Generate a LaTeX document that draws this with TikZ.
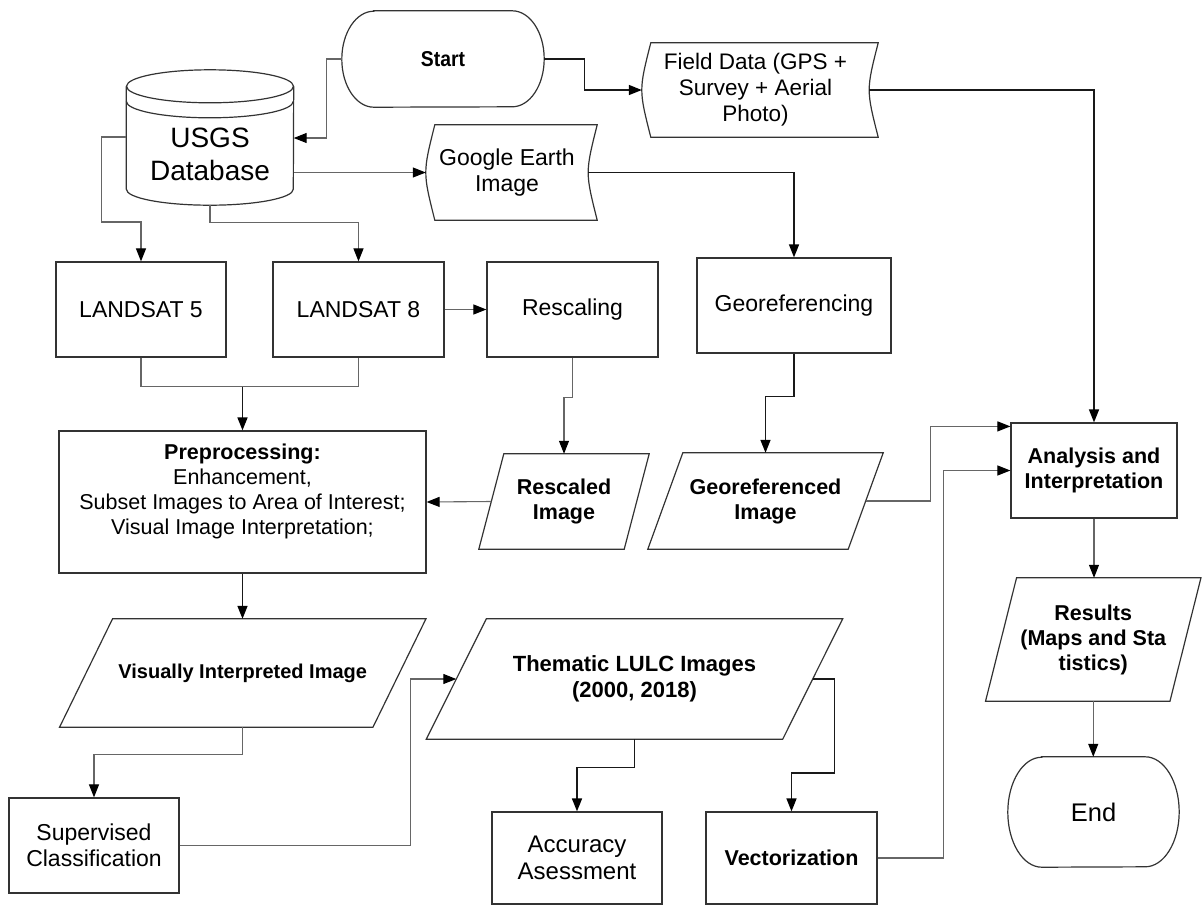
\documentclass[tikz,border=0pt]{standalone}
\usepackage{fontspec}
\setmainfont{Liberation Sans}
\newfontfamily\narrowfont[FakeStretch=0.9]{Liberation Sans}
\usetikzlibrary{arrows.meta}

\begin{document}
\begin{tikzpicture}[x=1pt, y=1pt,
    every node/.style={inner sep=0pt, align=center},
    box/.style={draw=black!80, line width=1.2pt},
    proc/.style={box, rectangle, minimum width=171, minimum height=95, font=\fontsize{23}{26}\selectfont},
    bproc/.style={proc, font=\fontsize{21.5}{25}\selectfont\bfseries},
    data/.style={minimum height=95, font=\fontsize{21.5}{25}\selectfont\bfseries},
    link/.style={line width=1.4pt, draw=black!90, -{Triangle[length=13pt, width=10pt, color=black]}},
    glink/.style={link, draw=black!60, line width=1.1pt}]
    \useasboundingbox (0,0) rectangle (1203,-906);

    % Define nodes
    \node[minimum width=202, minimum height=96, font=\narrowfont\fontsize{21.5}{24}\selectfont\bfseries] (start) at (443,-59) {Start};
    \node[minimum width=167, minimum height=102, font=\fontsize{28}{33}\selectfont] (usgs) at (210,-154) {USGS\\Database};
    \node[minimum width=227, minimum height=94, font=\fontsize{22.5}{26}\selectfont] (field) at (755.5,-90) {Field Data (GPS +\\Survey + Aerial\\Photo)};
    \node[minimum width=162, minimum height=95, font=\fontsize{23}{26}\selectfont] (goog) at (507,-172.5) {Google Earth\\Image};

    \node[proc, minimum width=170] (l5) at (141,-309.5) {LANDSAT 5};
    \node[proc] (l8) at (358.5,-309.5) {LANDSAT 8};
    \node[proc] (resc) at (572.5,-309.5) {Rescaling};
    \node[proc, minimum width=194] (georef) at (794,-305.5) {Georeferencing};
    \node[proc, minimum width=367, minimum height=142, font=\fontsize{21.5}{25}\selectfont] (pre) at (242.5,-502) {\textbf{Preprocessing:}\\Enhancement,\\Subset Images to Area of Interest;\\Visual Image Interpretation;\\ ~};
    \node[data, minimum width=145] (resd) at (564,-501.5) {Rescaled\\Image};
    \node[data, minimum width=200, minimum height=96] (geod) at (765.5,-501) {Georeferenced\\Image};
    \node[bproc, minimum width=166] (ana) at (1094,-470.5) {Analysis and\\Interpretation};

    \node[data, minimum width=313, minimum height=108, font=\fontsize{20}{24}\selectfont\bfseries] (vis) at (242.75,-673) {Visually Interpreted Image};
    \node[data, minimum width=356, minimum height=120, font=\fontsize{22}{26}\selectfont\bfseries] (them) at (634.5,-679) {Thematic LULC Images\\(2000, 2018)};
    \node[data, minimum width=184, minimum height=123] (res) at (1093.25,-639.5) {Results\\(Maps and Sta\\tistics)};
    \node[proc, minimum width=170] (sup) at (94,-845.5) {Supervised\\Classification};
    \node[proc, minimum width=170, minimum height=92, font=\fontsize{24}{27}\selectfont] (acc) at (577,-858) {Accuracy\\Asessment};
    \node[bproc, minimum height=92] (vec) at (791.5,-858) {Vectorization};
    \node[minimum width=171, minimum height=110, font=\fontsize{25.5}{28}\selectfont] (en) at (1093.5,-812) {End};

    % Outlines of the special shapes
    \draw[box] ([yshift=16.5]usgs.north west) -- ([yshift=16]usgs.south west)
        arc[start angle=180, end angle=360, x radius=83.5, y radius=16]
        -- ([yshift=16.5]usgs.north east);
    \draw[box] ([yshift=16.5]usgs.north) ellipse[x radius=83.5, y radius=16.5];
    \draw[box] ([yshift=1.5]usgs.north west) arc[start angle=180, end angle=360, x radius=83.5, y radius=16.5];
    \foreach \n/\r/\h in {start/32/48, en/34/55}
        \draw[box] ([xshift=\r]\n.north west) -- ([xshift=-\r]\n.north east)
            arc[start angle=90, end angle=-90, x radius=\r, y radius=\h]
            -- ([xshift=\r]\n.south west)
            arc[start angle=270, end angle=90, x radius=\r, y radius=\h] -- cycle;
    \foreach \n in {goog, field}
        \draw[box] ([xshift=9]\n.north west) -- ([xshift=9]\n.north east)
            .. controls ([xshift=-3]\n.east) .. ([xshift=9]\n.south east)
            -- ([xshift=9]\n.south west)
            .. controls ([xshift=-3]\n.west) .. ([xshift=9]\n.north west) -- cycle;
    \foreach \n/\s in {resd/12.5, geod/17.5, vis/26.5, them/30, res/15.5}
        \draw[box] ([xshift=\s]\n.north west) -- ([xshift=\s]\n.north east)
            -- ([xshift=-\s]\n.south east) -- ([xshift=-\s]\n.south west) -- cycle;

    % Draw connectors
    \coordinate (join) at ([yshift=-29]l5.south);
    \draw[glink] (start.west) -- ++(-15,0) |- ([yshift=16]usgs.east);
    \draw[link] (start.east) -- ++(40,0) |- (field.west);
    \draw[glink] (usgs.east |- goog.west) -- (goog.west);
    \draw[glink] ([yshift=17]usgs.west) -| ([xshift=-25, yshift=-68]usgs.west) -| (l5.north);
    \draw[glink] (usgs.south) -- ++(0,-17) -| (l8.north);
    \draw[glink] (l8.east) -- (resc.west);
    \draw[glink, -] (l5.south) |- (join) -| (l8.south);
    \draw[link] (join -| pre.north) -- (pre.north);
    \draw[glink] (resc.south) -- ++(0,-40) -| (resd.north);
    \draw[glink] (resd.west) -- (pre.east);
    \draw[link] (goog.east) -| (georef.north);
    \draw[link] (georef.south) -- ++(0,-43) -| (geod.north);
    \draw[glink] (geod.east) -- ++(64.5,0) |- ([yshift=-4]ana.north west);
    \draw[link] (field.east) -| (ana.north);
    \draw[glink] (vec.east) -- ++(66,0) |- (ana.west);
    \draw[glink] (ana.south) -- (ana.south |- res.north);
    \draw[glink] (res.south) -- (res.south |- en.north);
    \draw[link] (pre.south) -- (pre.south |- vis.north);
    \draw[glink] (vis.south) -- ++(0,-27) -| (sup.north);
    \draw[glink] (sup.east) -- ++(231,0) |- (them.west);
    \draw[link] (them.south) -- ++(0,-28) -| (acc.north);
    \draw[link] (them.east) -- ++(22,0) -- ++(0,-94) -| (vec.north);
\end{tikzpicture}
\end{document}
